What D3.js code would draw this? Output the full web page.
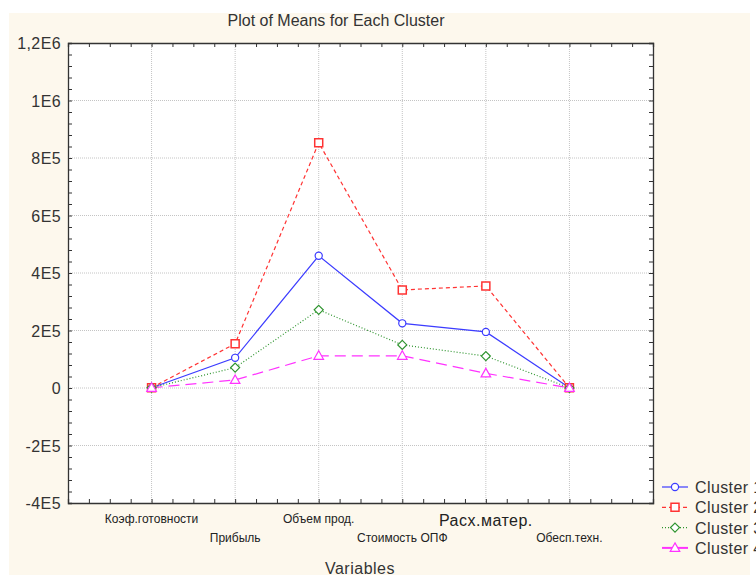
<!DOCTYPE html>
<html><head><meta charset="utf-8">
<script src="https://cdn.jsdelivr.net/npm/d3@7"></script>
<style>
html,body{margin:0;padding:0;background:#fff;}
svg{display:block;font-family:"Liberation Sans",Arial,sans-serif;}
</style></head>
<body>
<svg id="c" width="756" height="575"></svg>
<script>
const variables = ["Коэф.готовности","Прибыль","Объем прод.","Стоимость ОПФ","Расх.матер.","Обесп.техн."];
const cluster1 = [900, 105000, 460000, 225000, 195000, 500];
const cluster2 = [1000, 154000, 853000, 341000, 355000, 600];
const cluster3 = [800, 71000, 272000, 150000, 111000, 400];
const cluster4 = [700, 28000, 112000, 112000, 51000, 300];
const seriesNames = ["Cluster 1","Cluster 2","Cluster 3","Cluster 4"];
const yTicks = [-400000,-200000,0,200000,400000,600000,800000,1000000,1200000];
const yTickLabels = ["-4E5","-2E5","0","2E5","4E5","6E5","8E5","1E6","1,2E6"];

const svg = d3.select("#c");
svg.append("rect").attr("x",9).attr("y",13).attr("width",741).attr("height",562).attr("fill","#fdf8ed");

const L=68,T=43,R=653,B=503;
const x = d3.scaleLinear().domain([0,7]).range([L,R]);
const y = d3.scaleLinear().domain([-400000,1200000]).range([B,T]);

svg.append("rect").attr("x",L).attr("y",T).attr("width",R-L).attr("height",B-T).attr("fill","#fff");

// grid
const g = svg.append("g");
g.selectAll(".gy").data(yTicks.slice(1,-1)).enter().append("line")
 .attr("x1",L).attr("x2",R).attr("y1",d=>y(d)).attr("y2",d=>y(d))
 .attr("stroke","#c4c4c4").attr("stroke-dasharray","1,1");
g.selectAll(".gx").data(d3.range(1,7)).enter().append("line")
 .attr("y1",T).attr("y2",B).attr("x1",d=>x(d)).attr("x2",d=>x(d))
 .attr("stroke","#c4c4c4").attr("stroke-dasharray","1,1");

// axes with inward ticks
const minorY = d3.range(-400000,1200001,40000);
const minorX = d3.range(0,7.001,0.25);
const axL = d3.axisLeft(y).tickValues(minorY).tickSize(-4).tickFormat("");
const axR = d3.axisRight(y).tickValues(minorY).tickSize(-4).tickFormat("");
const axB = d3.axisBottom(x).tickValues(minorX).tickSize(-4).tickFormat("");
const axT = d3.axisTop(x).tickValues(minorX).tickSize(-4).tickFormat("");
function st(sel){sel.select(".domain").attr("stroke","#333").attr("stroke-width",1.3);sel.selectAll(".tick line").attr("stroke","#333");}
svg.append("g").attr("transform",`translate(${L},0)`).call(axL).call(st);
svg.append("g").attr("transform",`translate(${R},0)`).call(axR).call(st);
svg.append("g").attr("transform",`translate(0,${B})`).call(axB).call(st);
svg.append("g").attr("transform",`translate(0,${T})`).call(axT).call(st);

// y tick labels
svg.selectAll(".yl").data(yTicks).enter().append("text")
 .attr("x",61).attr("y",d=>y(d)+6).attr("text-anchor","end")
 .attr("font-size",16).attr("letter-spacing",0.4).attr("fill","#333").text((d,i)=>yTickLabels[i]);

// x labels
svg.selectAll(".xl").data(variables).enter().append("text")
 .attr("x",(d,i)=>x(i+1)).attr("y",(d,i)=> i===4 ? 526 : (i%2===0?523:542))
 .attr("text-anchor","middle").attr("font-size",(d,i)=>i===4?16:12)
 .attr("letter-spacing",(d,i)=>i===4?0.5:0)
 .attr("fill","#222").text(d=>d);

svg.append("text").attr("x",336).attr("y",26).attr("text-anchor","middle")
 .attr("font-size",16).attr("fill","#333").text("Plot of Means for Each Cluster");
svg.append("text").attr("x",360).attr("y",574).attr("text-anchor","middle")
 .attr("font-size",16).attr("letter-spacing",0.5).attr("fill","#333").text("Variables");

const series = [
 {name:seriesNames[0], v:cluster1, color:"#3c3cff", dash:null, ldash:null, lw:1.2, mk:"circle"},
 {name:seriesNames[1], v:cluster2, color:"#ff3333", dash:"4,3", ldash:"4,3", lw:1.2, mk:"square"},
 {name:seriesNames[2], v:cluster3, color:"#2e942e", dash:"1,2", ldash:"1,2", lw:1.2, mk:"diamond"},
 {name:seriesNames[3], v:cluster4, color:"#ff33ff", dash:"11,6", ldash:null, lw:1.2, mk:"triangle"}
];
const line = d3.line().x((d,i)=>x(i+1)).y(d=>y(d));
const shapes = {
  circle: d3.symbol().type(d3.symbolCircle).size(40)(),
  square: "M-4,-4L4,-4L4,4L-4,4Z",
  diamond: "M0,-4.5L4.5,0L0,4.5L-4.5,0Z",
  triangle: "M0,-5L4.8,3.5L-4.8,3.5Z"
};
function marker(sel,mk,color){
  sel.append("path").attr("d",shapes[mk])
   .attr("fill","#fff").attr("stroke",color).attr("stroke-width",mk==="square"?1.5:1.2);
}
series.forEach(s=>{
  svg.append("path").datum(s.v).attr("d",line).attr("fill","none")
   .attr("stroke",s.color).attr("stroke-width",s.lw).attr("stroke-dasharray",s.dash);
});
series.forEach(s=>{
  s.v.forEach((d,i)=>{
    const gm = svg.append("g").attr("transform",`translate(${x(i+1)},${y(d)})`);
    marker(gm,s.mk,s.color);
  });
});

// legend
series.forEach((s,i)=>{
  const yy = 487 + i*20.3;
  svg.append("line").attr("x1",662).attr("x2",688).attr("y1",yy).attr("y2",yy)
   .attr("stroke",s.color).attr("stroke-width",i===3?2:1.2).attr("stroke-dasharray",s.ldash);
  const gm = svg.append("g").attr("transform",`translate(675,${yy})`);
  marker(gm,s.mk,s.color);
  svg.append("text").attr("x",695).attr("y",yy+6).attr("font-size",16).attr("letter-spacing",0.4).attr("fill","#333").text(s.name);
});
</script>
</body></html>
